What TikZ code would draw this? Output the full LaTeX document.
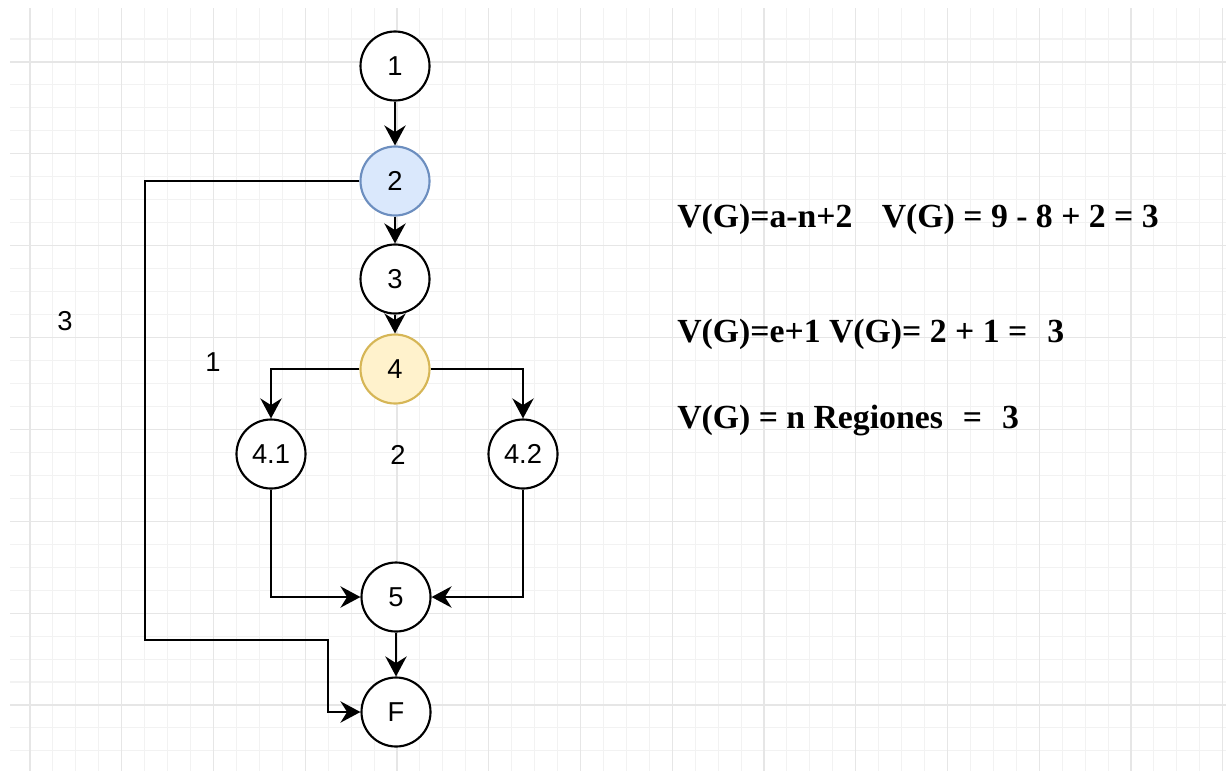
\documentclass[tikz,border=0pt]{standalone}
\usepackage{fontspec}
\setmainfont{Liberation Sans}
\newfontfamily\eqfont{Liberation Serif}
\usetikzlibrary{arrows.meta}
\definecolor{blueF}{HTML}{DAE8FC}
\definecolor{blueS}{HTML}{6C8EBF}
\definecolor{yelF}{HTML}{FFF2CC}
\definecolor{yelS}{HTML}{D6B656}
\definecolor{gminorC}{HTML}{F2F2F2}
\definecolor{gmajorC}{HTML}{E6E6E6}
\begin{document}
\begin{tikzpicture}[x=0.75pt,y=-0.75pt,
  gminor/.style={draw=gminorC,line width=0.8pt},
  gmajor/.style={draw=gmajorC,line width=0.9pt},
  vnode/.style={circle,draw=black,line width=1.6pt,minimum size=51.75pt,inner sep=0pt,fill=white,font=\fontsize{20.5}{24}\selectfont},
  edge/.style={line width=1.6pt,-{Stealth[length=15pt,width=16pt,inset=5pt]}},
  lbl/.style={font=\fontsize{20.5}{24}\selectfont,inner sep=0pt},
  eq/.style={font=\eqfont\bfseries\fontsize{25.3}{30}\selectfont,inner sep=0pt,anchor=base west}]
\useasboundingbox (0,0) rectangle (1226,771);
\fill[white] (0,0) rectangle (1226,771);
% grid
\foreach \i in {0,...,52} \draw[gminor] ({30+22.9375*\i},8) -- ({30+22.9375*\i},771);
\foreach \j in {0,...,31} \draw[gminor] (10,{39+22.965*\j}) -- (1226,{39+22.965*\j});
\foreach \i in {0,...,13} \draw[gmajor] ({30+91.75*\i},8) -- ({30+91.75*\i},771);
\foreach \j in {0,...,7} \draw[gmajor] (10,{62+91.86*\j}) -- (1226,{62+91.86*\j});
% nodes
\node[vnode] (n1) at (395,66) {1};
\node[vnode,fill=blueF,draw=blueS] (n2) at (395,181) {2};
\node[vnode] (n3) at (395,279) {3};
\node[vnode,fill=yelF,draw=yelS] (n4) at (395,369) {4};
\node[vnode] (n41) at (271,454) {4.1};
\node[vnode] (n42) at (523,454) {4.2};
\node[vnode] (n5) at (396,597) {5};
\node[vnode] (nF) at (396,712) {F};
% region labels
\node[lbl] (r3) at (65,321) {3};
\node[lbl] (r1) at (213,362) {1};
\node[lbl] (r2) at (398,455) {2};
% edges
\draw[edge] (n1) -- (n2);
\draw[edge] (n2) -- (n3);
\draw[edge] (n3) -- (n4);
\draw[edge] (n4.west) -| (n41.north);
\draw[edge] (n4.east) -| (n42.north);
\draw[edge] (n41.south) |- (n5.west);
\draw[edge] (n42.south) |- (n5.east);
\draw[edge] (n5) -- (nF);
\coordinate (c1) at (145,181);
\coordinate (c2) at (145,640);
\coordinate (c3) at (328,640);
\draw[edge] (n2.west) -- (c1) -- (c2) -- (c3) |- (nF.west);
% equations
\node[eq] (e1) at (677,227) {V(G)=a-n+2\hspace{22pt}V(G) = 9 - 8 + 2 = 3};
\node[eq] (e2) at (677,342) {V(G)=e+1 V(G)= 2 + 1 =\hspace{15pt}3};
\node[eq] (e3) at (677,428) {V(G) = n Regiones\hspace{15pt}=\hspace{15pt}3};
\end{tikzpicture}
\end{document}
